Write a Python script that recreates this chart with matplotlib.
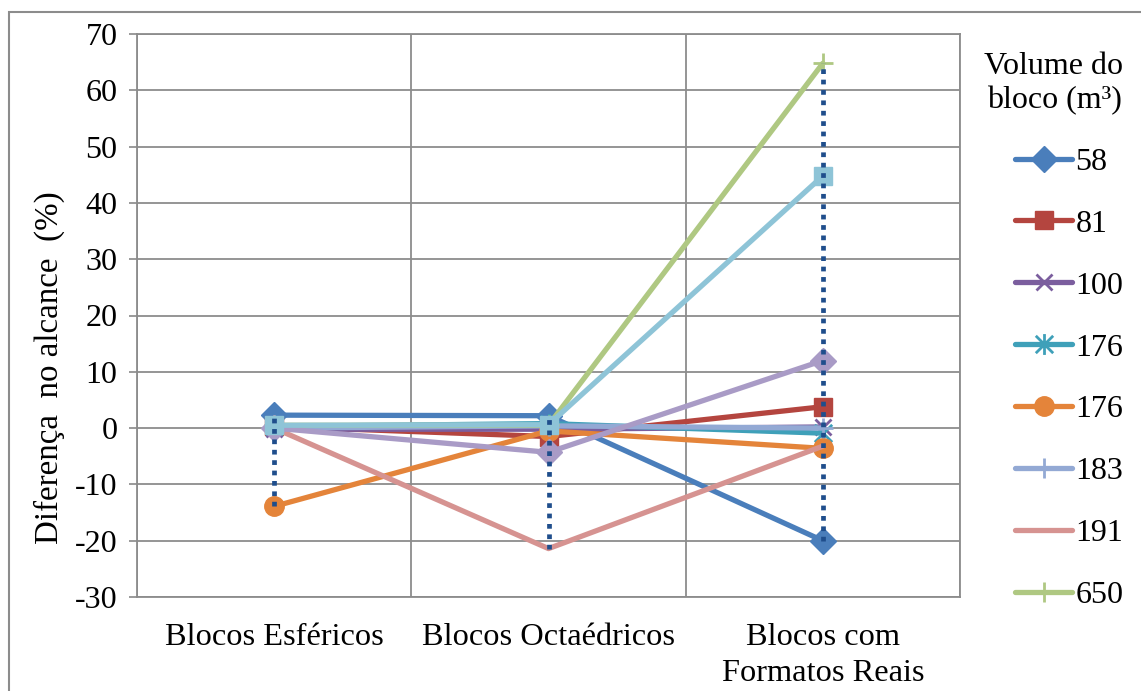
import numpy as np
import matplotlib
matplotlib.use("Agg")
import matplotlib.pyplot as plt
from matplotlib.path import Path
from matplotlib.patches import Rectangle

plt.rcParams["font.family"] = ["Liberation Serif", "DejaVu Serif"]
plt.rcParams["axes.unicode_minus"] = False

categories = ["Blocos Esféricos", "Blocos Octaédricos", "Blocos com\nFormatos Reais"]

# percentage difference in reach per block volume
s58 = [2.3, 2.2, -20.0]
s81 = [0.3, -1.5, 3.8]
s100 = [-0.2, -0.2, 0.2]
s176a = [0.3, 0.8, -0.9]
s176b = [-13.9, -0.5, -3.6]
s183 = [0.0, 0.4, 0.0]
s191 = [0.0, -21.4, -3.2]
s650 = [0.5, 0.5, 64.8]
s_extra1 = [0.0, -4.3, 12.0]
s_extra2 = [0.5, 0.6, 44.8]

legend_labels = ["58", "81", "100", "176", "176", "183", "191", "650"]

# Excel-style asterisk: an X plus a vertical bar
asterisk = Path(
    [(-0.5, -0.5), (0.5, 0.5), (-0.5, 0.5), (0.5, -0.5), (0, -0.6), (0, 0.6)],
    [Path.MOVETO, Path.LINETO, Path.MOVETO, Path.LINETO, Path.MOVETO, Path.LINETO],
)

series = [
    (s58, "#4A7EBB", "D", 13, legend_labels[0]),
    (s81, "#B4453F", "s", 13, legend_labels[1]),
    (s100, "#7B5E9E", "x", 12, legend_labels[2]),
    (s176a, "#3FA0B9", asterisk, 15, legend_labels[3]),
    (s176b, "#E4843A", "o", 14, legend_labels[4]),
    (s183, "#93A9D4", "+", 14, legend_labels[5]),
    (s191, "#D69391", None, 0, legend_labels[6]),
    (s650, "#AFC882", "+", 14, legend_labels[7]),
    (s_extra1, "#A99BC6", "D", 13, None),
    (s_extra2, "#8EC4D7", "s", 13, None),
]

fig = plt.figure(figsize=(11.41, 6.91), dpi=100)
ax = fig.add_axes([137 / 1141, 1 - 597 / 691, (960 - 137) / 1141, (597 - 34) / 691])

x = np.arange(len(categories)) + 0.5
handles = []
for vals, color, marker, ms, label in series:
    mew = 2.0 if marker in ("x", "+") or marker is asterisk else 1.0
    (ln,) = ax.plot(
        x, vals, color=color, lw=3.8, marker=marker, ms=ms,
        mfc=color, mec=color, mew=mew, solid_capstyle="round",
        label=label if label else "_nolegend_",
    )
    if label:
        handles.append(ln)

# high-low lines across all series
allv = np.array([s[0] for s in series])
ax.vlines(x, allv.min(axis=0), allv.max(axis=0), colors="#1F4E8C",
          lw=3.4, linestyles=(0, (1.0, 1.2)), zorder=5)

ax.set_xlim(0, 3)
ax.set_ylim(-30, 70)
ax.set_yticks(np.arange(-30, 71, 10))
ax.set_xticks(x)
ax.set_xticklabels(categories, fontsize=23.3, linespacing=1.32)
ax.set_xticks([0, 1, 2, 3], minor=True)
ax.tick_params(axis="x", which="both", length=0, pad=19)
ax.tick_params(axis="y", labelsize=23, length=6, width=1.2, color="#898989", pad=8)
ax.grid(True, axis="y", color="#8C8C8C", lw=1.3)
ax.grid(True, axis="x", which="minor", color="#8C8C8C", lw=1.3)
ax.grid(False, axis="x", which="major")
for sp in ax.spines.values():
    sp.set_color("#8C8C8C")
    sp.set_linewidth(1.3)
ax.set_axisbelow(True)

ax.set_ylabel("Diferença  no alcance  (%)", fontsize=23.8)
ax.yaxis.set_label_coords(-0.088, 0.407)

leg = fig.legend(
    handles=handles, labels=legend_labels, title="Volume do\nbloco (m³)",
    loc="upper center", bbox_to_anchor=(1054 / 1141, 1 - 52 / 691),
    frameon=False, fontsize=23, title_fontsize=23, handlelength=1.8,
    handletextpad=0.1, labelspacing=1.02, borderaxespad=0, borderpad=0,
)
leg.get_title().set_multialignment("center")
leg._legend_box.align = "right"

# outer chart frame
fig.add_artist(Rectangle((9 / 1141, -0.1), 1.2, 1 - 12 / 691 + 0.1,
                         transform=fig.transFigure, fill=False,
                         edgecolor="#8C8C8C", lw=1.5))

fig.savefig("out.png", dpi=100)
